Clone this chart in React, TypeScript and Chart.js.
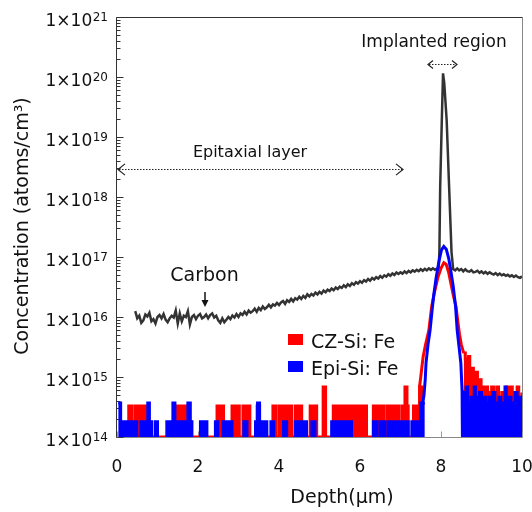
import React, { useEffect, useRef } from "react";
import { Chart, registerables } from "chart.js";

Chart.register(...registerables);

const FONT = '"DejaVu Sans", Verdana, sans-serif';

// ---- axis ticks / labels ----
const xTickValues = [0, 2, 4, 6, 8, 10];
const yTickExponents = [14, 15, 16, 17, 18, 19, 20, 21];
const xTitle = "Depth(µm)";
const yTitle = "Concentration (atoms/cm³)";
const seriesNames = ["CZ-Si: Fe", "Epi-Si: Fe"];

// ---- Carbon profile: depth (µm), concentration in units of 1e16 atoms/cm3 ----
const CARBON_UNIT = 1e16;
const carbonDepth = [
  0.45, 0.5, 0.55, 0.6, 0.65, 0.7, 0.75, 0.8, 0.85, 0.9, 0.95, 1.0, 1.05, 1.1, 1.15, 1.2, 1.25, 1.3, 1.35, 1.4,
  1.45, 1.5, 1.55, 1.6, 1.65, 1.7, 1.75, 1.8, 1.85, 1.9, 1.95, 2.0, 2.05, 2.1, 2.15, 2.2, 2.25, 2.3, 2.35, 2.4,
  2.45, 2.5, 2.55, 2.6, 2.65, 2.7, 2.75, 2.8, 2.85, 2.9, 2.95, 3.0, 3.05, 3.1, 3.15, 3.2, 3.25, 3.3, 3.35, 3.4,
  3.45, 3.5, 3.55, 3.6, 3.65, 3.7, 3.75, 3.8, 3.85, 3.9, 3.95, 4.0, 4.05, 4.1, 4.15, 4.2, 4.25, 4.3, 4.35, 4.4,
  4.45, 4.5, 4.55, 4.6, 4.65, 4.7, 4.75, 4.8, 4.85, 4.9, 4.95, 5.0, 5.05, 5.1, 5.15, 5.2, 5.25, 5.3, 5.35, 5.4,
  5.45, 5.5, 5.55, 5.6, 5.65, 5.7, 5.75, 5.8, 5.85, 5.9, 5.95, 6.0, 6.05, 6.1, 6.15, 6.2, 6.25, 6.3, 6.35, 6.4,
  6.45, 6.5, 6.55, 6.6, 6.65, 6.7, 6.75, 6.8, 6.85, 6.9, 6.95, 7.0, 7.05, 7.1, 7.15, 7.2, 7.25, 7.3, 7.35, 7.4,
  7.45, 7.5, 7.55, 7.6, 7.65, 7.7, 7.75, 7.8, 7.85, 7.9, 7.94, 7.96, 7.98, 8.02, 8.05, 8.08, 8.14, 8.2, 8.26, 8.3,
  8.35, 8.4, 8.45, 8.5, 8.55, 8.6, 8.65, 8.7, 8.75, 8.8, 8.85, 8.9, 8.95, 9.0, 9.05, 9.1, 9.15, 9.2, 9.25, 9.3,
  9.35, 9.4, 9.45, 9.5, 9.55, 9.6, 9.65, 9.7, 9.75, 9.8, 9.85, 9.9, 9.95, 10.0,
];
const carbonConc = [
  1.25, 0.95, 1.05, 0.8, 0.88, 1.1, 1.02, 1.18, 0.85, 0.92, 0.78, 1.0, 1.08, 0.95, 1.12, 0.9, 0.82, 0.95, 1.05, 0.98,
  1.28, 0.78, 1.15, 0.85, 1.05, 1.0, 1.25, 0.75, 1.0, 1.08, 0.92, 1.05, 1.12, 0.95, 1.0, 1.1, 0.95, 1.08, 1.15, 0.98,
  1.05, 0.88, 0.8, 0.95, 0.82, 0.9, 1.0, 0.92, 1.06, 0.98, 1.12, 1.0, 1.15, 1.08, 1.22, 1.1, 1.28, 1.18, 1.25, 1.38,
  1.22, 1.42, 1.3, 1.5, 1.36, 1.45, 1.6, 1.45, 1.62, 1.55, 1.72, 1.58, 1.75, 1.85, 1.65, 1.9, 1.78, 2.0, 1.82, 2.05,
  1.95, 2.18, 2.0, 2.25, 2.08, 2.38, 2.2, 2.42, 2.28, 2.55, 2.38, 2.62, 2.45, 2.75, 2.58, 2.85, 2.7, 2.98, 2.8, 3.1,
  2.92, 3.2, 3.05, 3.38, 3.15, 3.5, 3.3, 3.65, 3.45, 3.8, 3.6, 3.95, 3.72, 4.12, 3.9, 4.3, 4.02, 4.45, 4.2, 4.6,
  4.38, 4.8, 4.5, 4.95, 4.7, 5.15, 4.85, 5.3, 5.0, 5.5, 5.2, 5.55, 5.3, 5.75, 5.4, 5.85, 5.55, 6.0, 5.7, 6.1,
  5.8, 6.25, 5.9, 6.35, 6.0, 6.45, 6.1, 6.5, 6.15, 6.4, 6.2, 12, 150, 1900, 11500, 8000, 1900, 150, 12, 6.3,
  6.0, 6.45, 6.0, 6.3, 5.75, 6.25, 5.8, 5.7, 6.05, 5.55, 5.65, 5.9, 5.45, 5.75, 5.35, 5.65, 5.25, 5.55, 5.3, 5.1,
  5.4, 5.0, 5.3, 4.95, 5.15, 4.85, 5.05, 4.75, 4.95, 4.65, 4.9, 4.6, 4.5, 4.75,
];

// ---- Fe background (detection-limit counts), units of 1e14 atoms/cm3, stepped ----
const BG_UNIT = 1e14;
const czBgDepth = [
  0.05, 0.29, 0.37, 0.45, 0.51, 0.53, 0.59, 0.64, 0.76, 1.44, 1.56, 1.6, 1.69, 2.47, 2.53, 2.55, 2.63, 2.84, 2.9, 2.95,
  3.02, 3.11, 3.17, 3.22, 3.28, 3.46, 3.52, 3.85, 3.93, 4.01, 4.08, 4.11, 4.18, 4.2, 4.31, 4.4, 4.47, 4.49, 4.56, 4.77,
  4.84, 4.86, 4.93, 5.09, 5.15, 5.34, 5.41, 5.43, 5.5, 5.53, 5.63, 5.65, 5.75, 5.78, 5.83, 5.86, 5.95, 5.97, 6.04, 6.08,
  6.16, 6.33, 6.41, 6.45, 6.49, 6.53, 6.58, 6.66, 6.73, 6.75, 6.82, 6.87, 6.95, 7.03, 7.11, 7.16, 7.19, 7.32, 7.44, 7.47,
  7.56,
];
const czBgLevel = [
  1, 3.3, 1, 3.3, 1, 3.3, 1, 3.3, 1, 3.3, 1, 3.3, 1, 3.3, 1, 3.3, 1, 3.3, 1, 3.3,
  1, 3.3, 1, 3.3, 1, 3.3, 1, 3.3, 1, 3.3, 1, 3.3, 1, 3.3, 1, 3.3, 1, 3.3, 1, 3.3,
  1, 3.3, 1, 6.8, 1, 3.3, 1, 3.3, 1, 3.3, 1, 3.3, 1, 3.3, 1, 3.3, 1, 3.3, 1, 3.3,
  1, 3.3, 1, 3.3, 1, 3.3, 1, 3.3, 1, 3.3, 1, 3.3, 1, 3.3, 6.8, 3.3, 1, 3.3, 1, 6.8,
  6.8,
];
const epiBgDepth = [
  0.03, 0.09, 0.16, 0.27, 0.29, 0.37, 0.39, 0.49, 0.59, 0.66, 0.72, 0.76, 0.8, 0.86, 0.95, 1.0, 1.23, 1.32, 1.38, 1.43,
  1.5, 1.52, 1.62, 1.66, 1.71, 1.75, 1.81, 1.85, 2.06, 2.14, 2.17, 2.22, 2.43, 2.49, 2.62, 2.76, 2.8, 2.84, 3.13, 3.21,
  3.42, 3.47, 3.52, 3.6, 3.63, 3.7, 3.8, 3.87, 4.11, 4.19, 4.4, 4.52, 4.54, 4.68, 4.81, 4.89, 5.3, 5.46, 5.5, 5.62,
  5.64, 5.79, 6.33, 6.41, 6.49, 6.62, 6.7, 6.78, 6.83, 6.99, 7.03, 7.19, 7.28, 7.4, 7.45, 7.5, 7.6,
];
const epiBgLevel = [
  3.7, 0.8, 1.8, 0.8, 1.8, 0.8, 1.8, 0.8, 1.8, 0.8, 1.8, 3.7, 1.8, 0.8, 1.8, 0.8, 1.8, 0.8, 3.7, 1.8,
  0.8, 1.8, 0.8, 1.8, 0.8, 3.7, 1.8, 0.8, 1.8, 0.8, 1.8, 0.8, 1.8, 0.8, 1.8, 0.8, 1.8, 0.8, 1.8, 0.8,
  1.8, 3.7, 1.8, 0.8, 1.8, 0.8, 1.8, 0.8, 1.8, 0.8, 1.8, 0.8, 1.8, 0.8, 1.8, 0.8, 1.8, 0.8, 1.8, 0.8,
  1.8, 0.8, 1.8, 0.8, 1.8, 0.8, 1.8, 0.8, 1.8, 0.8, 1.8, 0.8, 1.8, 0.8, 1.8, 3.7, 3.7,
];

// ---- Fe implanted peaks (atoms/cm3) ----
const czPeakDepth = [7.47, 7.5, 7.53, 7.56, 7.62, 7.7, 7.77, 7.84, 7.92, 8.0, 8.07, 8.13, 8.19, 8.25, 8.31, 8.37, 8.42, 8.46, 8.5, 8.56];
const czPeakConc = [6.8e14, 1e15, 1.5e15, 2.2e15, 3.5e15, 6e15, 1.5e16, 2.6e16, 4.5e16, 6.5e16, 8e16, 7.5e16, 5.5e16, 3.5e16, 2.2e16, 1.5e16, 8e15, 5e15, 3.5e15, 2.5e15];
const epiPeakDepth = [7.55, 7.58, 7.61, 7.63, 7.68, 7.73, 7.78, 7.82, 7.88, 7.95, 8.01, 8.07, 8.13, 8.19, 8.24, 8.3, 8.36, 8.4, 8.45, 8.49, 8.52, 8.53];
const epiPeakConc = [3.7e14, 5e14, 9e14, 1.7e15, 3.5e15, 6e15, 1.3e16, 2.3e16, 4.5e16, 8.5e16, 1.3e17, 1.5e17, 1.35e17, 9.5e16, 6e16, 3.3e16, 1.5e16, 6e15, 3e15, 1.7e15, 6e14, 8e13];

// ---- Fe tails beyond the implant, units of 1e14, stepped ----
const czTailDepth = [8.56, 8.6, 8.64, 8.68, 8.71, 8.76, 8.8, 8.85, 8.9, 8.95, 8.99, 9.05, 9.1, 9.15, 9.2, 9.25, 9.3, 9.38, 9.42, 9.5, 9.58, 9.62, 9.66, 9.72, 9.76, 9.82, 9.88, 9.92, 10.0];
const czTailLevel = [25, 20, 14, 22, 12, 14, 10, 12, 8, 9, 6.8, 4.6, 6.8, 5.5, 4.6, 6.8, 4.6, 6.8, 4.6, 5.5, 4.6, 6.8, 4.6, 6.8, 4.6, 5.5, 6.8, 4.6, 5.5];
const epiTailDepth = [8.52, 8.54, 8.58, 8.62, 8.66, 8.7, 8.74, 8.78, 8.82, 8.85, 8.9, 8.95, 9.0, 9.05, 9.1, 9.14, 9.18, 9.23, 9.28, 9.33, 9.38, 9.43, 9.48, 9.53, 9.58, 9.61, 9.68, 9.73, 9.78, 9.83, 9.88, 9.93, 10.0];
const epiTailLevel = [0.8, 5.5, 3.7, 6.8, 3.7, 2.5, 4.6, 3.7, 6.8, 4.6, 3.7, 5.5, 3.7, 4.6, 3.7, 1.8, 4.6, 3.7, 5.5, 3.7, 2.5, 4.6, 1.8, 3.7, 6.8, 3.7, 4.6, 1.8, 3.7, 5.5, 3.7, 4.6, 3.7];

const RED = "#ff0000";
const BLUE = "#0000ff";
const CARBON = "#333333";

const pts = (xs: number[], ys: number[], unit = 1) => xs.map((x, i) => ({ x, y: ys[i] * unit }));

function txt(ctx: CanvasRenderingContext2D, s: string, x: number, y: number, size: number, align: CanvasTextAlign = "center", color = "#000") {
  ctx.font = `${size}px ${FONT}`;
  ctx.fillStyle = color;
  ctx.textAlign = align;
  ctx.textBaseline = "alphabetic";
  ctx.fillText(s, x, y);
}

function seg(ctx: CanvasRenderingContext2D, x1: number, y1: number, x2: number, y2: number) {
  ctx.beginPath();
  ctx.moveTo(x1, y1);
  ctx.lineTo(x2, y2);
  ctx.stroke();
}

function dottedDoubleArrow(ctx: CanvasRenderingContext2D, x1: number, x2: number, y: number, head: number) {
  ctx.save();
  ctx.strokeStyle = "#222";
  ctx.lineWidth = 1.2;
  ctx.setLineDash([1.5, 1.5]);
  seg(ctx, x1 + 1, y, x2 - 1, y);
  ctx.setLineDash([]);
  ctx.beginPath();
  ctx.moveTo(x1 + head, y - head * 0.8);
  ctx.lineTo(x1, y);
  ctx.lineTo(x1 + head, y + head * 0.8);
  ctx.moveTo(x2 - head, y - head * 0.8);
  ctx.lineTo(x2, y);
  ctx.lineTo(x2 - head, y + head * 0.8);
  ctx.stroke();
  ctx.restore();
}

const framePlugin = {
  id: "frame",
  beforeDatasetsDraw(chart: any) {
    const { ctx, chartArea: a, scales } = chart;
    const ys = scales.y;
    const xs = scales.x;
    const L = Math.round(a.left) - 0.5;
    const R = Math.round(a.right) + 0.5;
    const T = Math.round(a.top) + 0.5;
    const B = Math.round(a.bottom) + 0.5;
    ctx.save();
    ctx.lineWidth = 1;
    ctx.strokeStyle = "#888";
    seg(ctx, L, B, R, B);
    seg(ctx, R, T, R, B);
    ctx.strokeStyle = "#333";
    seg(ctx, L, T, R, T);
    seg(ctx, L, T, L, B);
    for (let e = yTickExponents[0]; e < yTickExponents[yTickExponents.length - 1]; e++) {
      for (let m = 1; m <= 9; m++) {
        const py = Math.round(ys.getPixelForValue(m * Math.pow(10, e))) + 0.5;
        seg(ctx, L, py, L + (m === 1 ? 7 : 4), py);
      }
    }
    const pTop = Math.round(ys.getPixelForValue(Math.pow(10, yTickExponents[yTickExponents.length - 1]))) + 0.5;
    seg(ctx, L, pTop, L + 7, pTop);
    ctx.strokeStyle = "#999";
    for (const v of xTickValues) {
      const px = Math.round(xs.getPixelForValue(v)) + 0.5;
      seg(ctx, px, B, px, B - 6);
    }
    ctx.restore();
  },
  afterDraw(chart: any) {
    const { ctx, chartArea: a, scales } = chart;
    const ys = scales.y;
    const xs = scales.x;
    ctx.save();
    for (const e of yTickExponents) {
      const py = ys.getPixelForValue(Math.pow(10, e));
      ctx.font = `12px ${FONT}`;
      const supW = ctx.measureText(String(e)).width;
      const rightEdge = a.left - 9;
      txt(ctx, String(e), rightEdge, py + 3.5, 12, "right", "#111");
      txt(ctx, "1×10", rightEdge - supW - 0.5, py + 8.5, 17, "right", "#111");
    }
    for (const v of xTickValues) {
      txt(ctx, String(v), xs.getPixelForValue(v), a.bottom + 34.5, 17, "center", "#111");
    }
    txt(ctx, xTitle, 342, 503, 19, "center", "#111");
    ctx.save();
    ctx.translate(27.5, (a.top + a.bottom) / 2 - 1);
    ctx.rotate(-Math.PI / 2);
    txt(ctx, yTitle, 0, 0, 19, "center", "#111");
    ctx.restore();

    txt(ctx, "Implanted region", 434, 47, 17, "center", "#111");
    dottedDoubleArrow(ctx, 428, 457, 64.5, 5);
    txt(ctx, "Epitaxial layer", 250, 157, 16, "center", "#111");
    dottedDoubleArrow(ctx, a.left + 1, 403, 169.5, 7);
    txt(ctx, "Carbon", 204.5, 281, 19, "center", "#111");
    ctx.strokeStyle = "#111";
    ctx.lineWidth = 1.5;
    seg(ctx, 205, 292, 205, 302);
    ctx.fillStyle = "#111";
    ctx.beginPath();
    ctx.moveTo(201.5, 300);
    ctx.lineTo(208.5, 300);
    ctx.lineTo(205, 307);
    ctx.closePath();
    ctx.fill();

    ctx.fillStyle = RED;
    ctx.fillRect(288, 334, 15, 11);
    txt(ctx, seriesNames[0], 311, 348, 19, "left", "#111");
    ctx.fillStyle = BLUE;
    ctx.fillRect(288, 361, 15, 11);
    txt(ctx, seriesNames[1], 311, 375, 19, "left", "#111");
    ctx.restore();
  },
};

export default function App() {
  const ref = useRef<HTMLCanvasElement | null>(null);
  useEffect(() => {
    if (!ref.current) return;
    // 'before': each point's level holds until the next point
    const stepBase = { stepped: "before" as const, fill: "start" as const, borderWidth: 3, pointRadius: 0 };
    const chart = new Chart(ref.current, {
      type: "line",
      data: {
        datasets: [
          { label: "Carbon", data: pts(carbonDepth, carbonConc, CARBON_UNIT), borderColor: CARBON, borderWidth: 2.5, fill: false, pointRadius: 0, order: 10 },
          { label: "CZ bg", data: pts(czBgDepth, czBgLevel, BG_UNIT), borderColor: RED, backgroundColor: RED, order: 5, ...stepBase },
          { label: "CZ peak", data: pts(czPeakDepth, czPeakConc), borderColor: RED, borderWidth: 3, fill: false, pointRadius: 0, order: 5 },
          { label: "CZ tail", data: pts(czTailDepth, czTailLevel, BG_UNIT), borderColor: RED, backgroundColor: RED, order: 5, ...stepBase },
          { label: "Epi bg", data: pts(epiBgDepth, epiBgLevel, BG_UNIT), borderColor: BLUE, backgroundColor: BLUE, order: 1, ...stepBase },
          { label: "Epi peak", data: pts(epiPeakDepth, epiPeakConc), borderColor: BLUE, borderWidth: 3, fill: false, pointRadius: 0, order: 1 },
          { label: "Epi tail", data: pts(epiTailDepth, epiTailLevel, BG_UNIT), borderColor: BLUE, backgroundColor: BLUE, order: 1, ...stepBase },
        ] as any,
      },
      options: {
        animation: false,
        responsive: false,
        maintainAspectRatio: false,
        events: [],
        layout: { padding: { left: 0, right: 10, top: 17, bottom: 0 } },
        plugins: { legend: { display: false }, tooltip: { enabled: false } },
        elements: { point: { radius: 0 }, line: { tension: 0 } },
        scales: {
          x: {
            type: "linear",
            min: 0,
            max: 10,
            grid: { display: false, drawTicks: false },
            border: { display: false },
            ticks: { display: false },
            afterFit: (s: any) => { s.height = 75; },
          },
          y: {
            type: "logarithmic",
            min: 1e14,
            max: 1e21,
            grid: { display: false, drawTicks: false },
            border: { display: false },
            ticks: { display: false },
            afterFit: (s: any) => { s.width = 117; },
          },
        },
      } as any,
      plugins: [framePlugin],
    });
    return () => chart.destroy();
  }, []);
  return (
    <div style={{ position: "absolute", left: 0, top: 0, width: 532, height: 512, background: "#fff" }}>
      <canvas ref={ref} width={532} height={512} style={{ display: "block" }} />
    </div>
  );
}
